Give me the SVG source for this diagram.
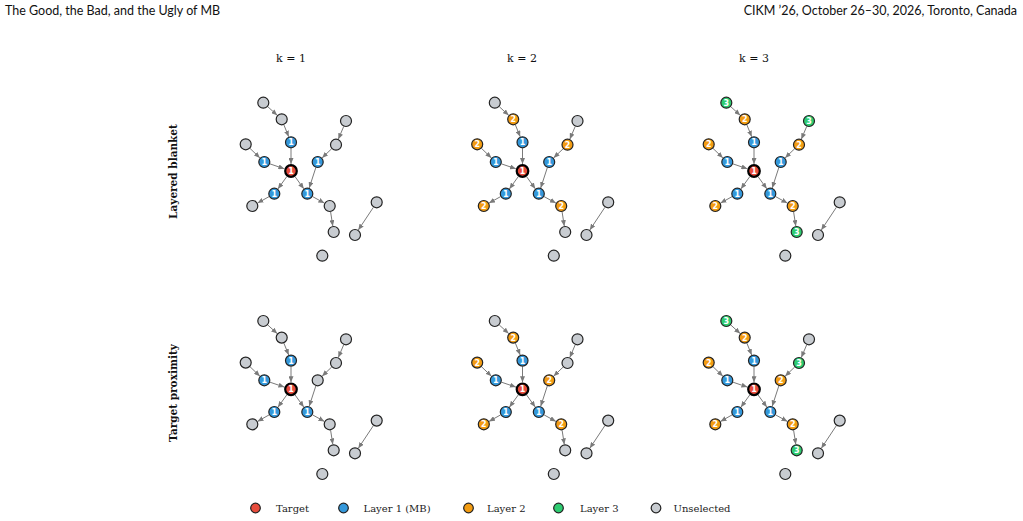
<svg xmlns="http://www.w3.org/2000/svg" xmlns:xlink="http://www.w3.org/1999/xlink" width="1023" height="521" viewBox="0 0 1023 521">
<style>
circle{stroke:#222;stroke-width:1.2}
.t{fill:#e74c3c;stroke:#000;stroke-width:2.2}
.l1{fill:#3498db}
.l2{fill:#f39c12}
.l3{fill:#2ecc71}
.u{fill:#c8ccd1}
.n{font-family:"DejaVu Sans",sans-serif;font-size:8px;font-weight:bold;fill:#fff;text-anchor:middle}
.hdr{font-family:Lato,"Open Sans",sans-serif;font-size:12.5px;fill:#111}
.col{font-family:"DejaVu Serif",serif;font-size:11px;fill:#111;text-anchor:middle}
.row{font-family:"DejaVu Serif",serif;font-size:10.5px;font-weight:bold;fill:#111;text-anchor:middle}
.leg{font-family:"DejaVu Serif",serif;font-size:10px;fill:#222}
.e{stroke:#7a7a7a;stroke-width:1;fill:none;marker-end:url(#ah)}
</style>
<defs>
<marker id="ah" markerUnits="userSpaceOnUse" markerWidth="6" markerHeight="5" refX="6" refY="2.5" orient="auto"><path d="M0,0 L6,2.5 L0,5 z" fill="#7a7a7a"/></marker>
<g id="edges">
<line class="e" x1="-23.2" y1="-64.3" x2="-13.8" y2="-55.7"/>
<line class="e" x1="-7.1" y1="-46.1" x2="-2.3" y2="-34.3"/>
<line class="e" x1="0" y1="-22.7" x2="0" y2="-7"/>
<line class="e" x1="-41" y1="-22.6" x2="-31.1" y2="-13.1"/>
<line class="e" x1="-21" y1="-7.1" x2="-6.6" y2="-2.2"/>
<line class="e" x1="52.7" y1="-44.5" x2="47.3" y2="-31.8"/>
<line class="e" x1="40.6" y1="-22.2" x2="31.1" y2="-13.1"/>
<line class="e" x1="24.8" y1="-3.3" x2="18.2" y2="17"/>
<line class="e" x1="-4.2" y1="5.6" x2="-13.1" y2="17.9"/>
<line class="e" x1="4.1" y1="5.7" x2="12.8" y2="17.8"/>
<line class="e" x1="-21.9" y1="25.6" x2="-33.5" y2="32.1"/>
<line class="e" x1="21.6" y1="25.6" x2="33.4" y2="32.1"/>
<line class="e" x1="39.6" y1="40.9" x2="41.8" y2="55.1"/>
<line class="e" x1="82.4" y1="36.3" x2="67.3" y2="59"/>
</g>
</defs>
<rect width="1023" height="521" fill="#fff"/>
<text class="hdr" x="5" y="15">The Good, the Bad, and the Ugly of MB</text>
<text class="hdr" x="1017" y="15" text-anchor="end">CIKM ’26, October 26–30, 2026, Toronto, Canada</text>
<text class="col" x="291" y="62">k = 1</text>
<text class="col" x="522" y="62">k = 2</text>
<text class="col" x="754" y="62">k = 3</text>
<text class="row" transform="translate(177,171.5) rotate(-90)">Layered blanket</text>
<text class="row" transform="translate(177,393) rotate(-90)">Target proximity</text>
<g id="connectors">
<use xlink:href="#edges" transform="translate(291,171)"/>
<use xlink:href="#edges" transform="translate(522.5,171)"/>
<use xlink:href="#edges" transform="translate(754,171)"/>
<use xlink:href="#edges" transform="translate(291,389.3)"/>
<use xlink:href="#edges" transform="translate(522.5,389.3)"/>
<use xlink:href="#edges" transform="translate(754,389.3)"/>
</g>
<g id="panel-r1-k1" transform="translate(291,171)">
<g id="p11-A"><circle class="u" cx="-27.7" cy="-68.3" r="5.5"/></g>
<g id="p11-B"><circle class="u" cx="-9.3" cy="-51.7" r="5.5"/></g>
<g id="p11-C"><circle class="l1" cx="0" cy="-28.7" r="5.5"/><text class="n" x="0" y="-25.8">1</text></g>
<g id="p11-D"><circle class="u" cx="-45.3" cy="-26.7" r="5.5"/></g>
<g id="p11-E"><circle class="l1" cx="-26.7" cy="-9" r="5.5"/><text class="n" x="-26.7" y="-6.1">1</text></g>
<g id="p11-T"><circle class="t" cx="0" cy="0" r="5.8"/><text class="n" x="0" y="2.9">1</text></g>
<g id="p11-F"><circle class="u" cx="55" cy="-50" r="5.5"/></g>
<g id="p11-G"><circle class="u" cx="45" cy="-26.3" r="5.5"/></g>
<g id="p11-H"><circle class="l1" cx="26.7" cy="-9" r="5.5"/><text class="n" x="26.7" y="-6.1">1</text></g>
<g id="p11-I"><circle class="l1" cx="-16.7" cy="22.7" r="5.5"/><text class="n" x="-16.7" y="25.6">1</text></g>
<g id="p11-J"><circle class="u" cx="-38.7" cy="35" r="5.5"/></g>
<g id="p11-K"><circle class="l1" cx="16.3" cy="22.7" r="5.5"/><text class="n" x="16.3" y="25.6">1</text></g>
<g id="p11-L"><circle class="u" cx="38.7" cy="35" r="5.5"/></g>
<g id="p11-M"><circle class="u" cx="42.7" cy="61" r="5.5"/></g>
<g id="p11-N"><circle class="u" cx="85.7" cy="31.3" r="5.5"/></g>
<g id="p11-O"><circle class="u" cx="64" cy="64" r="5.5"/></g>
<g id="p11-P"><circle class="u" cx="31.3" cy="84.7" r="5.5"/></g>
</g>
<g id="panel-r1-k2" transform="translate(522.5,171)">
<g id="p12-A"><circle class="u" cx="-27.7" cy="-68.3" r="5.5"/></g>
<g id="p12-B"><circle class="l2" cx="-9.3" cy="-51.7" r="5.5"/><text class="n" x="-9.3" y="-48.8">2</text></g>
<g id="p12-C"><circle class="l1" cx="0" cy="-28.7" r="5.5"/><text class="n" x="0" y="-25.8">1</text></g>
<g id="p12-D"><circle class="l2" cx="-45.3" cy="-26.7" r="5.5"/><text class="n" x="-45.3" y="-23.8">2</text></g>
<g id="p12-E"><circle class="l1" cx="-26.7" cy="-9" r="5.5"/><text class="n" x="-26.7" y="-6.1">1</text></g>
<g id="p12-T"><circle class="t" cx="0" cy="0" r="5.8"/><text class="n" x="0" y="2.9">1</text></g>
<g id="p12-F"><circle class="u" cx="55" cy="-50" r="5.5"/></g>
<g id="p12-G"><circle class="l2" cx="45" cy="-26.3" r="5.5"/><text class="n" x="45" y="-23.4">2</text></g>
<g id="p12-H"><circle class="l1" cx="26.7" cy="-9" r="5.5"/><text class="n" x="26.7" y="-6.1">1</text></g>
<g id="p12-I"><circle class="l1" cx="-16.7" cy="22.7" r="5.5"/><text class="n" x="-16.7" y="25.6">1</text></g>
<g id="p12-J"><circle class="l2" cx="-38.7" cy="35" r="5.5"/><text class="n" x="-38.7" y="37.9">2</text></g>
<g id="p12-K"><circle class="l1" cx="16.3" cy="22.7" r="5.5"/><text class="n" x="16.3" y="25.6">1</text></g>
<g id="p12-L"><circle class="l2" cx="38.7" cy="35" r="5.5"/><text class="n" x="38.7" y="37.9">2</text></g>
<g id="p12-M"><circle class="u" cx="42.7" cy="61" r="5.5"/></g>
<g id="p12-N"><circle class="u" cx="85.7" cy="31.3" r="5.5"/></g>
<g id="p12-O"><circle class="u" cx="64" cy="64" r="5.5"/></g>
<g id="p12-P"><circle class="u" cx="31.3" cy="84.7" r="5.5"/></g>
</g>
<g id="panel-r1-k3" transform="translate(754,171)">
<g id="p13-A"><circle class="l3" cx="-27.7" cy="-68.3" r="5.5"/><text class="n" x="-27.7" y="-65.4">3</text></g>
<g id="p13-B"><circle class="l2" cx="-9.3" cy="-51.7" r="5.5"/><text class="n" x="-9.3" y="-48.8">2</text></g>
<g id="p13-C"><circle class="l1" cx="0" cy="-28.7" r="5.5"/><text class="n" x="0" y="-25.8">1</text></g>
<g id="p13-D"><circle class="l2" cx="-45.3" cy="-26.7" r="5.5"/><text class="n" x="-45.3" y="-23.8">2</text></g>
<g id="p13-E"><circle class="l1" cx="-26.7" cy="-9" r="5.5"/><text class="n" x="-26.7" y="-6.1">1</text></g>
<g id="p13-T"><circle class="t" cx="0" cy="0" r="5.8"/><text class="n" x="0" y="2.9">1</text></g>
<g id="p13-F"><circle class="l3" cx="55" cy="-50" r="5.5"/><text class="n" x="55" y="-47.1">3</text></g>
<g id="p13-G"><circle class="l2" cx="45" cy="-26.3" r="5.5"/><text class="n" x="45" y="-23.4">2</text></g>
<g id="p13-H"><circle class="l1" cx="26.7" cy="-9" r="5.5"/><text class="n" x="26.7" y="-6.1">1</text></g>
<g id="p13-I"><circle class="l1" cx="-16.7" cy="22.7" r="5.5"/><text class="n" x="-16.7" y="25.6">1</text></g>
<g id="p13-J"><circle class="l2" cx="-38.7" cy="35" r="5.5"/><text class="n" x="-38.7" y="37.9">2</text></g>
<g id="p13-K"><circle class="l1" cx="16.3" cy="22.7" r="5.5"/><text class="n" x="16.3" y="25.6">1</text></g>
<g id="p13-L"><circle class="l2" cx="38.7" cy="35" r="5.5"/><text class="n" x="38.7" y="37.9">2</text></g>
<g id="p13-M"><circle class="l3" cx="42.7" cy="61" r="5.5"/><text class="n" x="42.7" y="63.9">3</text></g>
<g id="p13-N"><circle class="u" cx="85.7" cy="31.3" r="5.5"/></g>
<g id="p13-O"><circle class="u" cx="64" cy="64" r="5.5"/></g>
<g id="p13-P"><circle class="u" cx="31.3" cy="84.7" r="5.5"/></g>
</g>
<g id="panel-r2-k1" transform="translate(291,389.3)">
<g id="p21-A"><circle class="u" cx="-27.7" cy="-68.3" r="5.5"/></g>
<g id="p21-B"><circle class="u" cx="-9.3" cy="-51.7" r="5.5"/></g>
<g id="p21-C"><circle class="l1" cx="0" cy="-28.7" r="5.5"/><text class="n" x="0" y="-25.8">1</text></g>
<g id="p21-D"><circle class="u" cx="-45.3" cy="-26.7" r="5.5"/></g>
<g id="p21-E"><circle class="l1" cx="-26.7" cy="-9" r="5.5"/><text class="n" x="-26.7" y="-6.1">1</text></g>
<g id="p21-T"><circle class="t" cx="0" cy="0" r="5.8"/><text class="n" x="0" y="2.9">1</text></g>
<g id="p21-F"><circle class="u" cx="55" cy="-50" r="5.5"/></g>
<g id="p21-G"><circle class="u" cx="45" cy="-26.3" r="5.5"/></g>
<g id="p21-H"><circle class="u" cx="26.7" cy="-9" r="5.5"/></g>
<g id="p21-I"><circle class="l1" cx="-16.7" cy="22.7" r="5.5"/><text class="n" x="-16.7" y="25.6">1</text></g>
<g id="p21-J"><circle class="u" cx="-38.7" cy="35" r="5.5"/></g>
<g id="p21-K"><circle class="l1" cx="16.3" cy="22.7" r="5.5"/><text class="n" x="16.3" y="25.6">1</text></g>
<g id="p21-L"><circle class="u" cx="38.7" cy="35" r="5.5"/></g>
<g id="p21-M"><circle class="u" cx="42.7" cy="61" r="5.5"/></g>
<g id="p21-N"><circle class="u" cx="85.7" cy="31.3" r="5.5"/></g>
<g id="p21-O"><circle class="u" cx="64" cy="64" r="5.5"/></g>
<g id="p21-P"><circle class="u" cx="31.3" cy="84.7" r="5.5"/></g>
</g>
<g id="panel-r2-k2" transform="translate(522.5,389.3)">
<g id="p22-A"><circle class="u" cx="-27.7" cy="-68.3" r="5.5"/></g>
<g id="p22-B"><circle class="l2" cx="-9.3" cy="-51.7" r="5.5"/><text class="n" x="-9.3" y="-48.8">2</text></g>
<g id="p22-C"><circle class="l1" cx="0" cy="-28.7" r="5.5"/><text class="n" x="0" y="-25.8">1</text></g>
<g id="p22-D"><circle class="l2" cx="-45.3" cy="-26.7" r="5.5"/><text class="n" x="-45.3" y="-23.8">2</text></g>
<g id="p22-E"><circle class="l1" cx="-26.7" cy="-9" r="5.5"/><text class="n" x="-26.7" y="-6.1">1</text></g>
<g id="p22-T"><circle class="t" cx="0" cy="0" r="5.8"/><text class="n" x="0" y="2.9">1</text></g>
<g id="p22-F"><circle class="u" cx="55" cy="-50" r="5.5"/></g>
<g id="p22-G"><circle class="u" cx="45" cy="-26.3" r="5.5"/></g>
<g id="p22-H"><circle class="l2" cx="26.7" cy="-9" r="5.5"/><text class="n" x="26.7" y="-6.1">2</text></g>
<g id="p22-I"><circle class="l1" cx="-16.7" cy="22.7" r="5.5"/><text class="n" x="-16.7" y="25.6">1</text></g>
<g id="p22-J"><circle class="l2" cx="-38.7" cy="35" r="5.5"/><text class="n" x="-38.7" y="37.9">2</text></g>
<g id="p22-K"><circle class="l1" cx="16.3" cy="22.7" r="5.5"/><text class="n" x="16.3" y="25.6">1</text></g>
<g id="p22-L"><circle class="l2" cx="38.7" cy="35" r="5.5"/><text class="n" x="38.7" y="37.9">2</text></g>
<g id="p22-M"><circle class="u" cx="42.7" cy="61" r="5.5"/></g>
<g id="p22-N"><circle class="u" cx="85.7" cy="31.3" r="5.5"/></g>
<g id="p22-O"><circle class="u" cx="64" cy="64" r="5.5"/></g>
<g id="p22-P"><circle class="u" cx="31.3" cy="84.7" r="5.5"/></g>
</g>
<g id="panel-r2-k3" transform="translate(754,389.3)">
<g id="p23-A"><circle class="l3" cx="-27.7" cy="-68.3" r="5.5"/><text class="n" x="-27.7" y="-65.4">3</text></g>
<g id="p23-B"><circle class="l2" cx="-9.3" cy="-51.7" r="5.5"/><text class="n" x="-9.3" y="-48.8">2</text></g>
<g id="p23-C"><circle class="l1" cx="0" cy="-28.7" r="5.5"/><text class="n" x="0" y="-25.8">1</text></g>
<g id="p23-D"><circle class="l2" cx="-45.3" cy="-26.7" r="5.5"/><text class="n" x="-45.3" y="-23.8">2</text></g>
<g id="p23-E"><circle class="l1" cx="-26.7" cy="-9" r="5.5"/><text class="n" x="-26.7" y="-6.1">1</text></g>
<g id="p23-T"><circle class="t" cx="0" cy="0" r="5.8"/><text class="n" x="0" y="2.9">1</text></g>
<g id="p23-F"><circle class="u" cx="55" cy="-50" r="5.5"/></g>
<g id="p23-G"><circle class="l3" cx="45" cy="-26.3" r="5.5"/><text class="n" x="45" y="-23.4">3</text></g>
<g id="p23-H"><circle class="l2" cx="26.7" cy="-9" r="5.5"/><text class="n" x="26.7" y="-6.1">2</text></g>
<g id="p23-I"><circle class="l1" cx="-16.7" cy="22.7" r="5.5"/><text class="n" x="-16.7" y="25.6">1</text></g>
<g id="p23-J"><circle class="l2" cx="-38.7" cy="35" r="5.5"/><text class="n" x="-38.7" y="37.9">2</text></g>
<g id="p23-K"><circle class="l1" cx="16.3" cy="22.7" r="5.5"/><text class="n" x="16.3" y="25.6">1</text></g>
<g id="p23-L"><circle class="l2" cx="38.7" cy="35" r="5.5"/><text class="n" x="38.7" y="37.9">2</text></g>
<g id="p23-M"><circle class="l3" cx="42.7" cy="61" r="5.5"/><text class="n" x="42.7" y="63.9">3</text></g>
<g id="p23-N"><circle class="u" cx="85.7" cy="31.3" r="5.5"/></g>
<g id="p23-O"><circle class="u" cx="64" cy="64" r="5.5"/></g>
<g id="p23-P"><circle class="u" cx="31.3" cy="84.7" r="5.5"/></g>
</g>
<g id="legend">
<circle class="t" cx="255.5" cy="508" r="4.8" style="stroke:#222;stroke-width:1.2"/><text class="leg" x="276" y="511.5">Target</text>
<circle class="l1" cx="343.5" cy="508" r="4.8"/><text class="leg" x="363.5" y="511.5">Layer 1 (MB)</text>
<circle class="l2" cx="468.5" cy="508" r="4.8"/><text class="leg" x="487" y="511.5">Layer 2</text>
<circle class="l3" cx="558.5" cy="508" r="4.8"/><text class="leg" x="580" y="511.5">Layer 3</text>
<circle class="u" cx="656" cy="508" r="4.8"/><text class="leg" x="673.5" y="511.5">Unselected</text>
</g>
</svg>
